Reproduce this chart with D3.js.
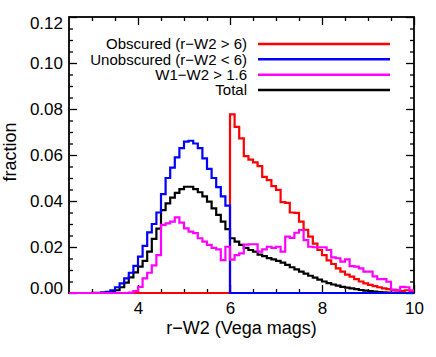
<!DOCTYPE html>
<html>
<head>
<meta charset="utf-8">
<script src="https://cdn.jsdelivr.net/npm/d3@7"></script>
<style>
  body { margin: 0; background: #fff; }
  svg text { font-family: "Liberation Sans", Arial, Helvetica, sans-serif; fill: #000; }
</style>
</head>
<body>
<svg id="chart" width="436" height="357"></svg>
<script>
// histogram bin left edges, 0.1 mag wide, 2.5 .. 9.9
var binEdges = d3.range(75).map(i => +(2.5 + i * 0.1).toFixed(1));
var binEnd = 10;

// fraction per bin
var total = [
  0, 0, 0, 0, 0,
  0.0001, 0.0001, 0.0002, 0.0003, 0.0006, 0.0012, 0.0025, 0.0045, 0.0068, 0.009,
  0.0115, 0.014, 0.018, 0.0235, 0.028, 0.036, 0.039, 0.0415, 0.0435, 0.0452,
  0.0462, 0.0462, 0.0452, 0.0438, 0.042, 0.0397, 0.0368, 0.034, 0.031, 0.0278,
  0.0238, 0.0223, 0.0209, 0.0196, 0.0187, 0.018, 0.0167, 0.016, 0.0152, 0.0146,
  0.014, 0.0132, 0.0122, 0.0112, 0.0103, 0.0093, 0.0084, 0.0075, 0.0067, 0.0058,
  0.005, 0.0043, 0.0037, 0.0032, 0.0027, 0.0023, 0.002, 0.0017, 0.0013, 0.001,
  0.0008, 0.0006, 0.0004, 0.0003, 0.0002, 0.0001, 0.0001, 0, 0, 0
];
var obscured = [
  0, 0, 0, 0, 0,
  0, 0, 0, 0, 0, 0, 0, 0, 0, 0,
  0, 0, 0, 0, 0, 0, 0, 0, 0, 0,
  0, 0, 0, 0, 0, 0, 0, 0, 0, 0,
  0.0777, 0.0722, 0.0672, 0.0595, 0.058, 0.0568, 0.0552, 0.0505, 0.0491, 0.0465,
  0.0448, 0.0395, 0.0392, 0.035, 0.0348, 0.031, 0.0275, 0.0245, 0.0215, 0.0187,
  0.0165, 0.0142, 0.0126, 0.0107, 0.0093, 0.008, 0.0071, 0.006, 0.005, 0.0042,
  0.0035, 0.003, 0.0025, 0.002, 0.0017, 0.0012, 0.001, 0.0008, 0.0012, 0.0008
];
var unobscured = [
  0, 0, 0, 0, 0,
  0, 0, 0.0002, 0.0005, 0.0012, 0.0025, 0.0042, 0.0064, 0.0088, 0.0118,
  0.0158, 0.0205, 0.0264, 0.03, 0.035, 0.043, 0.05, 0.0545, 0.059, 0.063,
  0.0658, 0.0662, 0.065, 0.063, 0.0585, 0.054, 0.05, 0.046, 0.042, 0.038,
  0, 0, 0, 0, 0, 0, 0, 0, 0, 0,
  0, 0, 0, 0, 0, 0, 0, 0, 0, 0,
  0, 0, 0, 0, 0, 0, 0, 0, 0, 0,
  0, 0, 0, 0, 0, 0, 0, 0, 0, 0
];
var w1w2 = [
  0, 0, 0, 0, 0,
  0, 0, 0, 0, 0, 0, 0, 0, 0.0002, 0.0008,
  0.0027, 0.0064, 0.0088, 0.012, 0.0165, 0.0296, 0.0303, 0.031, 0.0329, 0.0306,
  0.0281, 0.0267, 0.026, 0.0238, 0.0223, 0.0209, 0.0196, 0.019, 0.0143, 0.0201,
  0.0145, 0.0165, 0.0172, 0.021, 0.0212, 0.0212, 0.018, 0.019, 0.0201, 0.0196,
  0.0201, 0.018, 0.0245, 0.024, 0.0262, 0.0274, 0.023, 0.0201, 0.0199, 0.0199,
  0.0199, 0.0187, 0.0155, 0.0151, 0.0136, 0.0146, 0.0117, 0.0115, 0.0107, 0.0093,
  0.0093, 0.0072, 0.006, 0.006, 0.0049, 0.0015, 0.0013, 0.0027, 0.0025, 0.0012
];

var legendLabels = ["Obscured (r\u2212W2 > 6)", "Unobscured (r\u2212W2 < 6)", "W1\u2212W2 > 1.6", "Total"];
var legendColors = ["#ff0000", "#0000ff", "#ff00ff", "#000000"];

var xMajor = [4, 6, 8, 10];
var xMinor = [3, 3.5, 4.5, 5, 5.5, 6.5, 7, 7.5, 8.5, 9, 9.5];
var yMajor = [0, 0.02, 0.04, 0.06, 0.08, 0.10, 0.12];
var yMinor = [0.005, 0.01, 0.015, 0.025, 0.03, 0.035, 0.045, 0.05, 0.055, 0.065, 0.07, 0.075,
  0.085, 0.09, 0.095, 0.105, 0.11, 0.115];

var svg = d3.select("#chart");
var plotL = 69, plotR = 414, plotT = 17, plotB = 293;

var x = d3.scaleLinear().domain([2.5, 10]).range([plotL, plotR]);
var y = d3.scaleLinear().domain([0, 0.12]).range([plotB, plotT]);

// frame
svg.append("rect")
  .attr("x", plotL).attr("y", plotT)
  .attr("width", plotR - plotL).attr("height", plotB - plotT)
  .attr("fill", "none").attr("stroke", "#000").attr("stroke-width", 1.8);

function axisGroup(axis, tx, ty) {
  var g = svg.append("g").attr("transform", `translate(${tx},${ty})`).call(axis);
  g.select(".domain").remove();
  g.selectAll("line").attr("stroke", "#000").attr("stroke-width", 1.3);
  return g;
}

// x axes
var xb = axisGroup(d3.axisBottom(x).tickValues(xMajor).tickSize(-8).tickPadding(9)
  .tickFormat(d3.format("d")), 0, plotB);
xb.selectAll("text").attr("font-size", 17);
axisGroup(d3.axisBottom(x).tickValues(xMinor).tickSize(-4).tickFormat(""), 0, plotB);
axisGroup(d3.axisTop(x).tickValues(xMajor).tickSize(-8).tickFormat(""), 0, plotT);
axisGroup(d3.axisTop(x).tickValues(xMinor).tickSize(-4).tickFormat(""), 0, plotT);

// y axes
var yl = axisGroup(d3.axisLeft(y).tickValues(yMajor).tickSize(-8).tickPadding(6)
  .tickFormat(d3.format(".2f")), plotL, 0);
yl.selectAll("text").attr("font-size", 17)
  .attr("dy", d => d === 0 ? "0.0em" : d === 0.12 ? "0.65em" : "0.32em");
axisGroup(d3.axisLeft(y).tickValues(yMinor).tickSize(-4).tickFormat(""), plotL, 0);
axisGroup(d3.axisRight(y).tickValues(yMajor).tickSize(-8).tickFormat(""), plotR, 0);
axisGroup(d3.axisRight(y).tickValues(yMinor).tickSize(-4).tickFormat(""), plotR, 0);

// axis titles
svg.append("text")
  .attr("x", (plotL + plotR) / 2).attr("y", 334)
  .attr("text-anchor", "middle").attr("font-size", 18)
  .text("r\u2212W2 (Vega mags)");
svg.append("text")
  .attr("transform", "translate(16,152) rotate(-90)")
  .attr("text-anchor", "middle").attr("font-size", 18)
  .text("fraction");

// histograms
var line = d3.line()
  .x(d => x(d[0]))
  .y(d => y(d[1]))
  .curve(d3.curveStepAfter);

function steps(vals) {
  var pts = binEdges.map((e, i) => [e, vals[i]]);
  pts.push([binEnd, vals[vals.length - 1]]);
  return pts;
}

var series = [
  { vals: total, color: "#000000" },
  { vals: obscured, color: "#ff0000" },
  { vals: unobscured, color: "#0000ff" },
  { vals: w1w2, color: "#ff00ff" }
];

svg.append("g")
  .selectAll("path")
  .data(series)
  .join("path")
  .attr("d", d => line(steps(d.vals)))
  .attr("fill", "none")
  .attr("stroke", d => d.color)
  .attr("stroke-width", 2.2);

// legend
var legend = svg.append("g");
var rowY = d3.scaleLinear().domain([0, 3]).range([44, 90]);
legendLabels.forEach(function(lbl, i) {
  legend.append("text")
    .attr("x", 247).attr("y", rowY(i)).attr("dy", "0.35em")
    .attr("text-anchor", "end").attr("font-size", 15)
    .text(lbl);
  legend.append("line")
    .attr("x1", 258).attr("x2", 390)
    .attr("y1", rowY(i)).attr("y2", rowY(i))
    .attr("stroke", legendColors[i]).attr("stroke-width", 2.5);
});
</script>
</body>
</html>
